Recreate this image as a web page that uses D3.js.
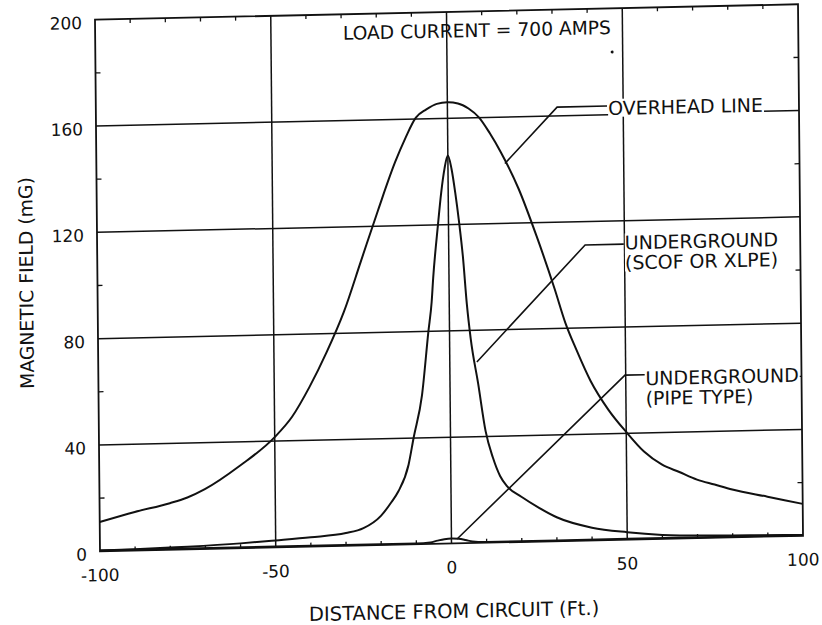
<!DOCTYPE html>
<html>
<head>
<meta charset="utf-8">
<script src="https://cdn.jsdelivr.net/npm/d3@7"></script>
<style>
  html, body { margin: 0; padding: 0; background: #fff; }
  svg { display: block; font-family: "DejaVu Sans", sans-serif; }
</style>
</head>
<body>
<div id="chart"></div>
<script>
// Magnetic field (mG) vs distance from circuit (ft)
const overheadX     = [-100, -90, -80, -75, -70, -60, -50, -45, -40, -35, -30, -25, -20, -15, -12, -9, -6, -3, 0, 3, 6, 9, 12, 15, 20, 25, 30, 33, 36, 40, 45, 50, 55, 60, 65, 70, 75, 80, 90, 100];
const overheadField = [11, 14.5, 17.5, 19.5, 22.5, 31, 41.5, 49, 60, 73, 88, 107, 126, 144, 153, 160.5, 163.5, 165.5, 166, 165.5, 163.5, 160, 154, 147, 133, 115, 95, 82, 72, 60, 49, 40.5, 33, 28, 25, 22, 20, 18, 15, 12];

const scofX     = [-100, -90, -80, -75, -60, -50, -40, -30, -25, -20, -17, -15, -12, -10.5, -8, -6, -5, -4.5, -3, -2, -1, 0, 1, 2, 3, 4, 5, 6, 8, 10, 12, 14, 16, 20, 25, 30, 40, 50, 60, 75, 90, 100];
const scofField = [0.3, 0.5, 0.8, 1, 1.8, 2.6, 3.5, 4.8, 6.5, 11, 16, 20, 30, 40, 56, 80, 91, 100, 120, 132, 141, 146, 141, 132, 121, 108, 90, 77, 60, 42, 32, 25, 21, 17, 12.7, 9, 4.8, 2.8, 1.5, 0.8, 0.5, 0.3];

const pipeX     = [-100, -50, -10, -6, -4, -2, 0, 2, 4, 6, 10, 50, 100];
const pipeField = [0.3, 0.3, 0.3, 0.6, 1.2, 1.7, 1.9, 1.7, 1.2, 0.6, 0.3, 0.3, 0.3];

const xTicks = [-100, -50, 0, 50, 100];
const yTicks = [0, 40, 80, 120, 160, 200];

const loadNote = 'LOAD CURRENT = 700 AMPS';
const labelOverhead = ['OVERHEAD LINE'];
const labelScof = ['UNDERGROUND', '(SCOF OR XLPE)'];
const labelPipe = ['UNDERGROUND', '(PIPE TYPE)'];

const width = 822, height = 625;
const x = d3.scaleLinear().domain([-100, 100]).range([97, 801]);
const y = d3.scaleLinear().domain([0, 200]).range([544, 12]);

const svg = d3.select('#chart').append('svg')
    .attr('width', width)
    .attr('height', height);

// The original is a slightly skewed scan; mimic that with one affine transform
const root = svg.append('g')
    .attr('transform', 'translate(449,277.75) matrix(0.9986,-0.022,0.0094,0.9991,0,0) translate(-449,-278)');

// Grid lines
root.append('g').selectAll('line')
    .data(yTicks.filter(d => d > 0 && d < 200))
    .join('line')
    .attr('x1', x(-100)).attr('x2', x(100))
    .attr('y1', d => y(d)).attr('y2', d => y(d))
    .attr('stroke', '#111').attr('stroke-width', 1.5);

root.append('g').selectAll('line')
    .data(xTicks.filter(d => d > -100 && d < 100))
    .join('line')
    .attr('x1', d => x(d)).attr('x2', d => x(d))
    .attr('y1', y(0)).attr('y2', y(200))
    .attr('stroke', '#111').attr('stroke-width', 1.5);

// Minor ticks, pointing inward
const minorX = d3.range(-90, 100, 10).filter(d => d % 50 !== 0);
const minorY = d3.range(20, 200, 40);
const ticks = root.append('g').attr('stroke', '#111').attr('stroke-width', 1.3);
minorX.forEach(d => {
    ticks.append('line').attr('x1', x(d)).attr('x2', x(d)).attr('y1', y(0)).attr('y2', y(0) - 4);
    ticks.append('line').attr('x1', x(d)).attr('x2', x(d)).attr('y1', y(200)).attr('y2', y(200) + 4);
});
minorY.forEach(d => {
    ticks.append('line').attr('x1', x(-100)).attr('x2', x(-100) + 5).attr('y1', y(d)).attr('y2', y(d));
    ticks.append('line').attr('x1', x(100)).attr('x2', x(100) - 5).attr('y1', y(d)).attr('y2', y(d));
});

// Frame
root.append('rect')
    .attr('x', x(-100)).attr('y', y(200))
    .attr('width', x(100) - x(-100)).attr('height', y(0) - y(200))
    .attr('fill', 'none').attr('stroke', '#111').attr('stroke-width', 1.8);

// Tick labels
root.append('g').selectAll('text')
    .data(yTicks)
    .join('text')
    .attr('x', x(-100) - 13)
    .attr('y', d => y(d) + 9)
    .attr('text-anchor', 'end')
    .attr('font-size', 17)
    .attr('fill', '#111')
    .text(d => d);

root.append('g').selectAll('text')
    .data(xTicks)
    .join('text')
    .attr('x', d => x(d))
    .attr('y', y(0) + 30)
    .attr('text-anchor', 'middle')
    .attr('font-size', 17)
    .attr('fill', '#111')
    .text(d => d);

// Axis titles
root.append('text')
    .attr('x', 451).attr('y', 618.5)
    .attr('text-anchor', 'middle')
    .attr('font-size', 19.5)
    .attr('fill', '#111')
    .text('DISTANCE FROM CIRCUIT (Ft.)');

root.append('text')
    .attr('transform', 'translate(32.5,274) rotate(-90)')
    .attr('text-anchor', 'middle')
    .attr('font-size', 18.8)
    .attr('fill', '#111')
    .text('MAGNETIC FIELD (mG)');

// Curves
const line = d3.line()
    .x(d => x(d[0]))
    .y(d => y(d[1]))
    .curve(d3.curveMonotoneX);

[[overheadX, overheadField], [scofX, scofField], [pipeX, pipeField]].forEach(([xs, ys]) => {
    root.append('path')
        .datum(d3.zip(xs, ys))
        .attr('d', line)
        .attr('fill', 'none')
        .attr('stroke', '#111')
        .attr('stroke-width', 2);
});

// Call-outs: text position and leader path given in data units
const callouts = [
    { lines: labelOverhead, at: [45.7, 162.5], leader: [[16.2, 142.5], [31.2, 163.3], [45.4, 163.3]] },
    { lines: labelScof, at: [50.1, 111.8], leader: [[7.7, 68.1], [38.8, 111.2], [49.8, 111.2]] },
    { lines: labelPipe, at: [55.6, 60.6], leader: [[1.6, 1.65], [49.8, 61.9], [55.4, 61.9]] }
];

const leader = d3.line().x(d => x(d[0])).y(d => y(d[1]));

callouts.forEach(c => {
    root.append('path')
        .attr('d', leader(c.leader))
        .attr('fill', 'none')
        .attr('stroke', '#111')
        .attr('stroke-width', 1.6);

    const g = root.append('g');
    const bg = g.append('rect').attr('fill', '#fff');
    const t = g.append('text')
        .attr('font-size', 19)
        .attr('fill', '#111');
    c.lines.forEach((s, i) => {
        t.append('tspan')
            .attr('x', x(c.at[0]))
            .attr('y', y(c.at[1]) + 7 + i * 20)
            .text(s);
    });
    const bb = t.node().getBBox();
    bg.attr('x', bb.x).attr('y', bb.y + 2)
        .attr('width', bb.width + 1).attr('height', bb.height - 4);
});

root.append('text')
    .attr('x', x(8.6)).attr('y', y(193) + 7)
    .attr('text-anchor', 'middle')
    .attr('font-size', 18.7)
    .attr('fill', '#111')
    .text(loadNote);

root.append('circle')
    .attr('cx', x(47)).attr('cy', y(183.6))
    .attr('r', 1.5)
    .attr('fill', '#111');
</script>
</body>
</html>
